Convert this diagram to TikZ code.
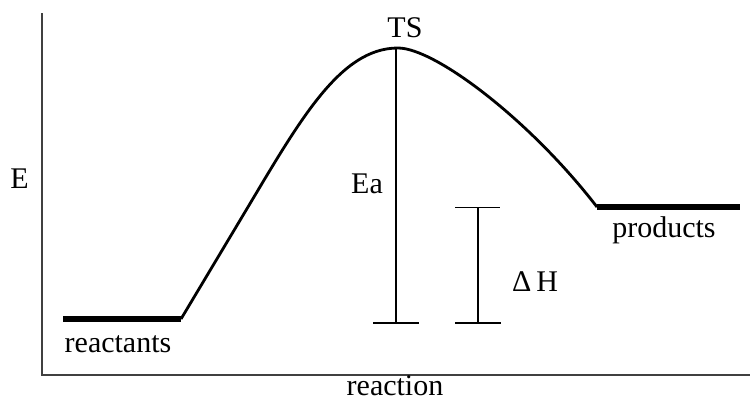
\documentclass[tikz,border=0pt]{standalone}
\usepackage{fontspec}
\setmainfont{Liberation Serif}
\begin{document}
\begin{tikzpicture}[x=1pt,y=-1pt,
  axis/.style={draw=black!75,line width=2pt},
  curve/.style={line width=2.8pt,line join=round},
  level/.style={line width=5.5pt},
  bar/.style={line width=1.5pt},
  lbl/.style={font=\fontsize{30}{32}\selectfont,inner sep=0pt,anchor=base}]
\useasboundingbox (0,0) rectangle (750,402);
% axes
\coordinate (ytop) at (41.5,13);
\coordinate (orig) at (41.5,374.5);
\coordinate (xend) at (750,374.5);
\draw[axis] (ytop) -- (orig) -- (xend);
% energy profile
\coordinate (r1) at (63,319);
\coordinate (r2) at (181,319);
\coordinate (a1) at (245,212);
\coordinate (ts) at (398,48);
\coordinate (p1) at (597,207);
\coordinate (p2) at (740,207);
\draw[level] (r1) -- (r2);
\draw[level] (p1) -- (p2);
\draw[curve] (r2) -- (a1) .. controls (300,120) and (340,48) .. (ts)
  .. controls (435,48) and (530,120) .. (p1);
% Ea bar
\coordinate (eab) at (396,323);
\draw[bar] (396,48) -- (eab);
\draw[bar] (373,323) -- (419,323);
% Delta H bar
\coordinate (dht) at (478,207.5);
\coordinate (dhb) at (478,323);
\draw[bar] (dht) -- (dhb);
\draw[bar] (455,207.5) -- (500,207.5);
\draw[bar] (455,323) -- (501,323);
% labels
\node[lbl] (E) at (19.5,188) {E};
\node[lbl] (TS) at (405,37) {TS};
\node[lbl] (Ea) at (367,193) {Ea};
\node[lbl] (dH) at (535,291) {Δ\,H};
\node[lbl] (prod) at (664,237.5) {products};
\node[lbl] (reac) at (118,352.5) {reactants};
\node[lbl] (rxn) at (395,395) {reaction};
\end{tikzpicture}
\end{document}
